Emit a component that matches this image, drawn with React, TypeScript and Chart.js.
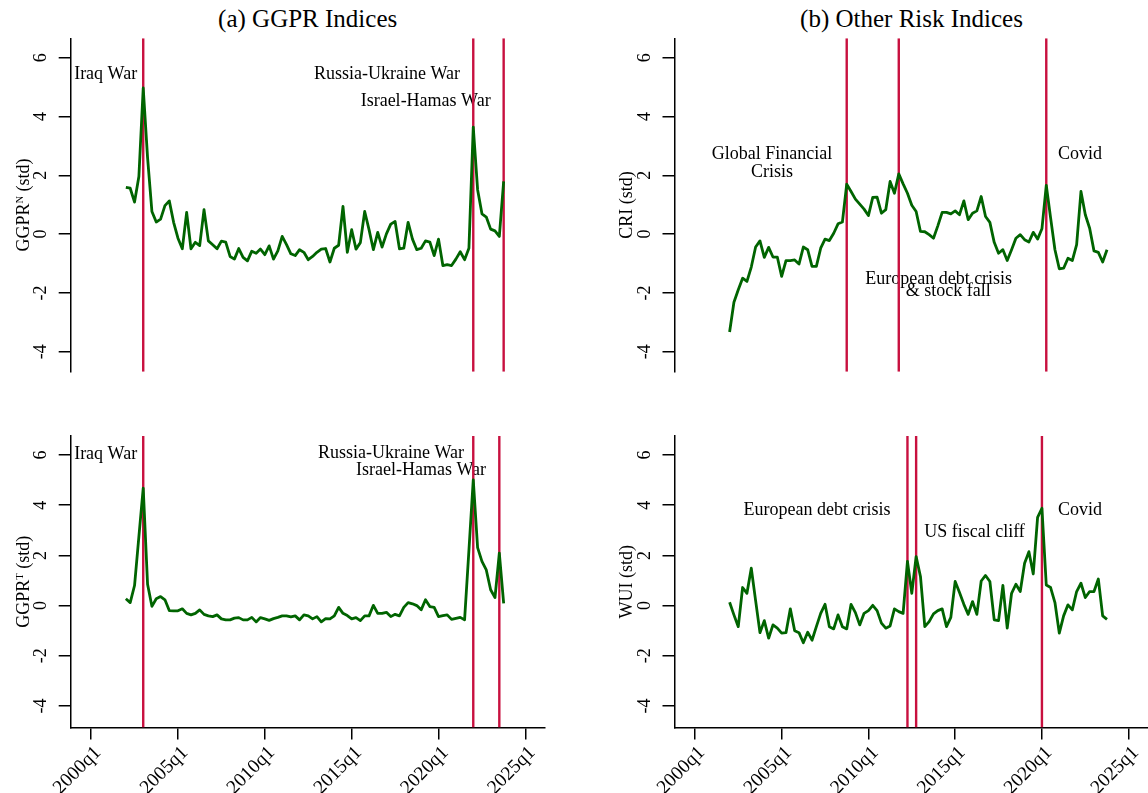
import React, { useEffect, useRef } from 'react';
import { Chart, registerables } from 'chart.js';

Chart.register(...registerables);

const FONT = '"Liberation Serif", "Times New Roman", serif';
const GREEN = '#006400';
const RED = '#C8103F';

// quarters counted Stata-style (2000q1 = 160); series start at 2002q1
const START_Q = 168;

const GGPR_N = [
  1.59, 1.56, 1.09, 1.96, 4.97, 2.6, 0.77, 0.41, 0.51, 0.97,
  1.13, 0.40, -0.14, -0.50, 0.74, -0.50, -0.28, -0.39, 0.83, -0.23,
  -0.36, -0.50, -0.24, -0.27, -0.76, -0.85, -0.49, -0.79, -0.91, -0.58,
  -0.65, -0.51, -0.70, -0.40, -0.85, -0.57, -0.08, -0.36, -0.67, -0.73,
  -0.53, -0.62, -0.87, -0.76, -0.62, -0.51, -0.49, -0.95, -0.48, -0.38,
  0.94, -0.62, 0.15, -0.51, -0.29, 0.77, 0.15, -0.53, 0.06, -0.44,
  0.01, 0.34, 0.43, -0.50, -0.48, 0.40, -0.17, -0.53, -0.48, -0.23,
  -0.27, -0.73, -0.17, -1.07, -1.04, -1.07, -0.85, -0.60, -0.87, -0.48,
  3.64, 1.51, 0.69, 0.58, 0.17, 0.11, -0.08, 1.79,
];

const GGPR_T = [
  0.27, 0.12, 0.80, 2.75, 4.68, 0.85, -0.03, 0.27, 0.36, 0.23,
  -0.20, -0.21, -0.21, -0.13, -0.31, -0.37, -0.31, -0.17, -0.35, -0.41,
  -0.44, -0.37, -0.53, -0.57, -0.57, -0.50, -0.48, -0.57, -0.57, -0.47,
  -0.65, -0.48, -0.53, -0.59, -0.52, -0.47, -0.41, -0.41, -0.45, -0.41,
  -0.57, -0.37, -0.41, -0.53, -0.44, -0.65, -0.52, -0.53, -0.41, -0.07,
  -0.31, -0.40, -0.53, -0.48, -0.60, -0.41, -0.41, 0.01, -0.31, -0.31,
  -0.27, -0.44, -0.35, -0.41, -0.07, 0.12, 0.07, 0.00, -0.17, 0.23,
  -0.04, -0.07, -0.44, -0.40, -0.37, -0.55, -0.51, -0.47, -0.57, 2.2,
  5.01, 2.31, 1.76, 1.42, 0.63, 0.32, 2.09, 0.09,
];

const CRI = [
  -3.33, -2.32, -1.89, -1.50, -1.61, -1.12, -0.44, -0.23, -0.79, -0.45,
  -0.78, -0.78, -1.44, -0.90, -0.90, -0.88, -1.02, -0.44, -0.53, -1.10,
  -1.10, -0.48, -0.17, -0.22, 0.03, 0.35, 0.41, 1.70, 1.45, 1.19,
  1.02, 0.85, 0.63, 1.25, 1.26, 0.71, 0.83, 1.79, 1.39, 2.05,
  1.71, 1.39, 0.98, 0.77, 0.09, 0.08, -0.02, -0.14, 0.28, 0.74,
  0.74, 0.69, 0.79, 0.66, 1.13, 0.49, 0.71, 0.79, 1.28, 0.60,
  0.40, -0.28, -0.65, -0.53, -0.90, -0.53, -0.14, -0.02, -0.19, -0.27,
  0.06, -0.17, 0.18, 1.66, 0.55, -0.53, -1.18, -1.16, -0.82, -0.90,
  -0.36, 1.45, 0.66, 0.20, -0.57, -0.62, -0.95, -0.53,
];

const WUI = [
  0.13, -0.37, -0.84, 0.72, 0.49, 1.49, 0.20, -1.08, -0.60, -1.30,
  -0.77, -0.90, -1.10, -1.08, -0.13, -1.00, -1.08, -1.48, -1.06, -1.38,
  -0.84, -0.31, 0.05, -0.84, -0.93, -0.37, -0.84, -0.93, 0.05, -0.28,
  -0.77, -0.31, -0.20, 0.01, -0.20, -0.70, -0.90, -0.81, -0.13, -0.24,
  -0.31, 1.76, 0.49, 1.95, 1.16, -0.84, -0.64, -0.33, -0.20, -0.13,
  -0.84, -0.47, 0.96, 0.52, 0.05, -0.35, 0.16, -0.35, 0.98, 1.20,
  0.96, -0.57, -0.60, 0.80, -0.90, 0.49, 0.85, 0.56, 1.69, 2.15,
  1.26, 3.52, 3.88, 0.82, 0.72, 0.12, -1.10, -0.41, 0.03, -0.17,
  0.56, 0.89, 0.32, 0.56, 0.56, 1.06, -0.41, -0.55,
];

const X_TICKS = [160, 180, 200, 220, 240, 260];
const X_TICK_LABELS = ['2000q1', '2005q1', '2010q1', '2015q1', '2020q1', '2025q1'];
const Y_TICKS = [-4, -2, 0, 2, 4, 6];
const Y_TICK_LABELS = ['-4', '-2', '0', '2', '4', '6'];

// event lines (quarters)
const EVENTS_GGPR_N = [172, 248, 255];
const EVENTS_GGPR_T = [172, 248, 254];
const EVENTS_CRI = [195, 207, 241];
const EVENTS_WUI = [209, 211, 240];

type Note = { text: string; x: number; y: number; align: CanvasTextAlign };

const NOTES_GGPR_N: Note[] = [
  { text: 'Iraq War', x: 170.6, y: 5.42, align: 'right' },
  { text: 'Russia-Ukraine War', x: 244.95, y: 5.42, align: 'right' },
  { text: 'Israel-Hamas War', x: 252.0, y: 4.53, align: 'right' },
];
const NOTES_GGPR_T: Note[] = [
  { text: 'Iraq War', x: 170.6, y: 6.05, align: 'right' },
  { text: 'Russia-Ukraine War', x: 245.87, y: 6.09, align: 'right' },
  { text: 'Israel-Hamas War', x: 250.94, y: 5.39, align: 'right' },
];
const NOTES_CRI: Note[] = [
  { text: 'Global Financial', x: 177.78, y: 2.71, align: 'center' },
  { text: 'Crisis', x: 177.78, y: 2.12, align: 'center' },
  { text: 'European debt crisis', x: 216.19, y: -1.52, align: 'center' },
  { text: '& stock fall', x: 218.42, y: -1.96, align: 'center' },
  { text: 'Covid', x: 243.7, y: 2.72, align: 'left' },
];
const NOTES_WUI: Note[] = [
  { text: 'European debt crisis', x: 188.14, y: 3.78, align: 'center' },
  { text: 'US fiscal cliff', x: 212.85, y: 2.94, align: 'left' },
  { text: 'Covid', x: 243.7, y: 3.8, align: 'left' },
];

const X_MIN = 155.3;
const X_MAX = 264.45;

type TitlePart = { text: string; sup?: boolean };

interface PanelDef {
  key: string;
  values: number[];
  events: number[];
  notes: Note[];
  yTitle: TitlePart[];
  left: number;
  top: number;
  width: number;
  height: number;
  padTop: number;
  padBottom: number;
  padRight: number;
  yAxisWidth: number;
  showX: boolean;
  xAxisHeight: number;
  yMin: number;
  yMax: number;
}

const TOP_Y = { yMin: -4.68, yMax: 6.66 };
const BOT_Y = { yMin: -4.86, yMax: 6.76 };

const PANELS: PanelDef[] = [
  {
    key: 'ggprn', values: GGPR_N, events: EVENTS_GGPR_N, notes: NOTES_GGPR_N,
    yTitle: [{ text: 'GGPR' }, { text: 'N', sup: true }, { text: ' (std)' }],
    left: 0, top: 0, width: 574, height: 400,
    padTop: 38.3, padBottom: 28.3, padRight: 29.3, yAxisWidth: 70.7,
    showX: false, xAxisHeight: 0, ...TOP_Y,
  },
  {
    key: 'cri', values: CRI, events: EVENTS_CRI, notes: NOTES_CRI,
    yTitle: [{ text: 'CRI (std)' }],
    left: 574, top: 0, width: 574, height: 400,
    padTop: 38.3, padBottom: 28.3, padRight: 0, yAxisWidth: 100.5,
    showX: false, xAxisHeight: 0, ...TOP_Y,
  },
  {
    key: 'ggprt', values: GGPR_T, events: EVENTS_GGPR_T, notes: NOTES_GGPR_T,
    yTitle: [{ text: 'GGPR' }, { text: 'T', sup: true }, { text: ' (std)' }],
    left: 0, top: 393, width: 574, height: 400,
    padTop: 43, padBottom: 0, padRight: 29.3, yAxisWidth: 70.7,
    showX: true, xAxisHeight: 65.5, ...BOT_Y,
  },
  {
    key: 'wui', values: WUI, events: EVENTS_WUI, notes: NOTES_WUI,
    yTitle: [{ text: 'WUI (std)' }],
    left: 574, top: 393, width: 574, height: 400,
    padTop: 43, padBottom: 0, padRight: 0, yAxisWidth: 100.5,
    showX: true, xAxisHeight: 65.5, ...BOT_Y,
  },
];

function drawYTitle(ctx: CanvasRenderingContext2D, parts: TitlePart[], cx: number, cy: number) {
  const base = `18px ${FONT}`;
  const small = `10.5px ${FONT}`;
  ctx.save();
  ctx.translate(cx, cy);
  ctx.rotate(-Math.PI / 2);
  ctx.fillStyle = '#000';
  ctx.textBaseline = 'alphabetic';
  ctx.textAlign = 'left';
  let total = 0;
  for (const p of parts) {
    ctx.font = p.sup ? small : base;
    total += ctx.measureText(p.text).width;
  }
  let x = -total / 2;
  for (const p of parts) {
    ctx.font = p.sup ? small : base;
    ctx.fillText(p.text, x, p.sup ? 6 - 5.5 : 6);
    x += ctx.measureText(p.text).width;
  }
  ctx.restore();
}

function zeroPadding(s: any) {
  s.paddingLeft = 0;
  s.paddingRight = 0;
  s.paddingTop = 0;
  s.paddingBottom = 0;
}

function makeConfig(p: PanelDef): any {
  const line = p.values.map((v, i) => ({ x: START_Q + i, y: v }));
  const eventSets = p.events.map((q) => ({
    type: 'line',
    data: [{ x: q, y: p.yMin }, { x: q, y: p.yMax }],
    borderColor: RED,
    borderWidth: 2.4,
    pointRadius: 0,
    order: 1,
  }));
  const grid = {
    display: true,
    drawOnChartArea: false,
    drawTicks: true,
    tickLength: 12,
    color: '#000',
    lineWidth: 1.5,
  };
  const border = { display: true, color: '#000', width: 1.5 };
  const decor = {
    id: 'decor_' + p.key,
    beforeDatasetsDraw(chart: any) {
      const ctx = chart.ctx as CanvasRenderingContext2D;
      const xs = chart.scales.x;
      const ys = chart.scales.y;
      ctx.save();
      ctx.font = `18px ${FONT}`;
      ctx.fillStyle = '#000';
      ctx.textBaseline = 'middle';
      for (const n of p.notes) {
        ctx.textAlign = n.align;
        ctx.fillText(n.text, xs.getPixelForValue(n.x), ys.getPixelForValue(n.y));
      }
      ctx.restore();
    },
    afterDraw(chart: any) {
      const a = chart.chartArea;
      drawYTitle(chart.ctx, p.yTitle, a.left - 48.2, (a.top + a.bottom) / 2);
    },
  };
  return {
    type: 'line',
    data: {
      datasets: [
        {
          data: line,
          borderColor: GREEN,
          borderWidth: 2.8,
          pointRadius: 0,
          borderJoinStyle: 'round',
          order: 0,
        },
        ...eventSets,
      ],
    },
    options: {
      animation: false,
      responsive: false,
      events: [],
      layout: { padding: { top: p.padTop, bottom: p.padBottom, left: 0, right: p.padRight } },
      plugins: { legend: { display: false }, tooltip: { enabled: false }, title: { display: false } },
      scales: {
        x: {
          type: 'linear',
          min: X_MIN,
          max: X_MAX,
          display: p.showX,
          afterBuildTicks: (s: any) => { s.ticks = X_TICKS.map((v) => ({ value: v })); },
          afterFit: (s: any) => { s.height = p.xAxisHeight; zeroPadding(s); },
          ticks: {
            autoSkip: false,
            minRotation: 45,
            maxRotation: 45,
            padding: 2,
            labelOffset: 7,
            color: '#000',
            font: { family: FONT, size: 19.5 },
            callback: (_v: any, i: number) => X_TICK_LABELS[i],
          },
          grid,
          border,
        },
        y: {
          type: 'linear',
          min: p.yMin,
          max: p.yMax,
          afterBuildTicks: (s: any) => { s.ticks = Y_TICKS.map((v) => ({ value: v })); },
          afterFit: (s: any) => { s.width = p.yAxisWidth; zeroPadding(s); },
          ticks: {
            minRotation: 90,
            maxRotation: 90,
            crossAlign: 'center',
            padding: 9.5,
            color: '#000',
            font: { family: FONT, size: 18 },
            callback: (_v: any, i: number) => Y_TICK_LABELS[i],
          },
          grid,
          border,
        },
      },
    },
    plugins: [decor],
  };
}

function Panel({ p }: { p: PanelDef }) {
  const ref = useRef<HTMLCanvasElement>(null);
  useEffect(() => {
    const chart = new Chart(ref.current as HTMLCanvasElement, makeConfig(p));
    return () => chart.destroy();
  }, [p]);
  return (
    <canvas
      ref={ref}
      width={p.width}
      height={p.height}
      style={{ position: 'absolute', left: p.left, top: p.top, width: p.width, height: p.height }}
    />
  );
}

const titleStyle = (center: number): React.CSSProperties => ({
  position: 'absolute',
  left: center - 200,
  width: 400,
  textAlign: 'center',
  top: 6,
  fontFamily: FONT,
  fontSize: 25,
  lineHeight: '25px',
  whiteSpace: 'nowrap',
  color: '#000',
});

export default function App() {
  return (
    <div
      style={{
        position: 'absolute',
        left: 0,
        top: 0,
        width: 1148,
        height: 793,
        background: '#fff',
        overflow: 'hidden',
      }}
    >
      <div style={titleStyle(307.7)}>(a) GGPR Indices</div>
      <div style={titleStyle(911.5)}>(b) Other Risk Indices</div>
      {PANELS.map((p) => (
        <Panel key={p.key} p={p} />
      ))}
    </div>
  );
}
